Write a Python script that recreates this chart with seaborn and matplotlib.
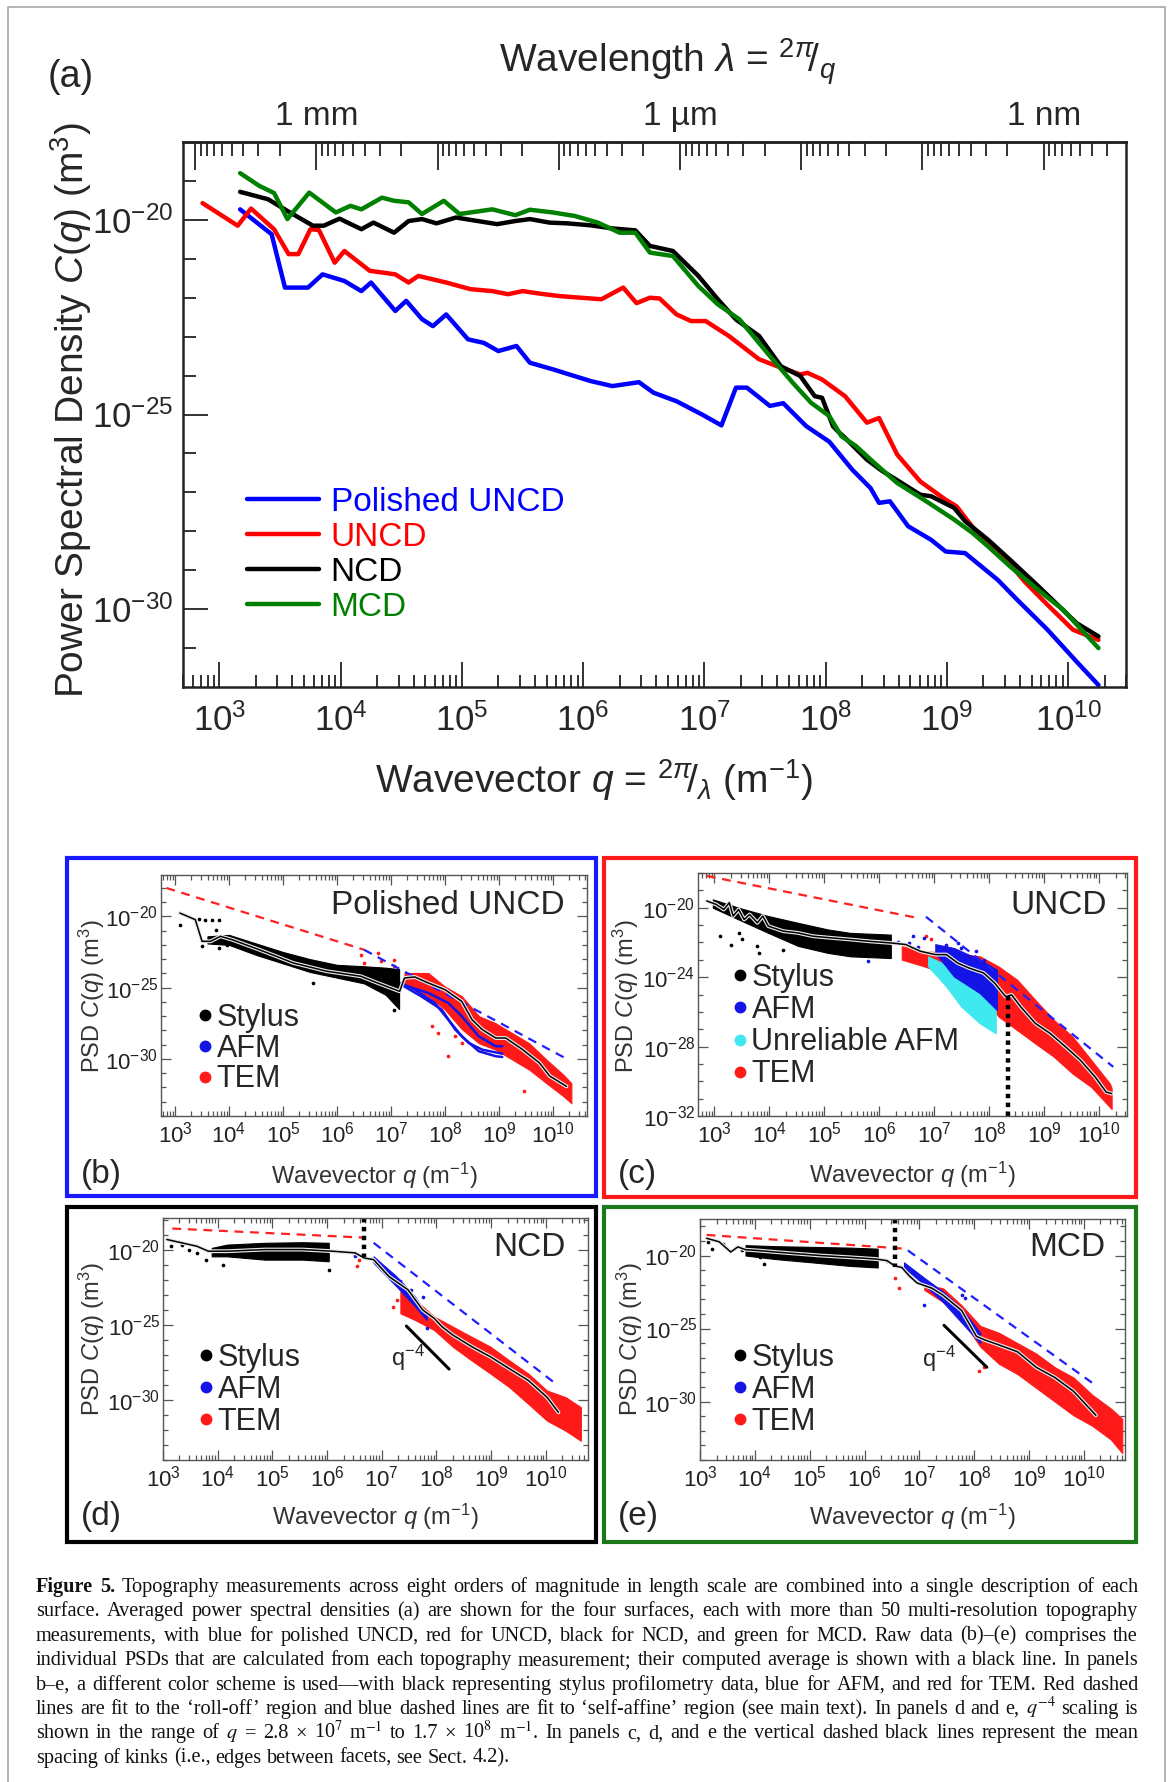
import numpy as np
import pandas as pd
import matplotlib
matplotlib.use("Agg")
import matplotlib.pyplot as plt
import seaborn as sns
from matplotlib.lines import Line2D
from matplotlib.patches import Rectangle
from matplotlib.ticker import NullFormatter
import matplotlib.patheffects as pe

# ======================= DATA (log10 values) =======================
# ---- panel (a): averaged PSDs ----
pol_lq = [3.17,3.43,3.54,3.73,3.85,4.03,4.17,4.25,4.45,4.54,4.67,4.76,4.87,5.05,5.18,5.30,5.45,5.56,5.75,6.06,
          6.24,6.46,6.58,6.77,6.98,7.14,7.26,7.35,7.54,7.65,7.84,8.03,8.22,8.37,8.44,8.53,8.68,8.87,8.99,9.15,
          9.42,9.58,9.83,10.07,10.25]
pol_lc = [-19.73,-20.37,-21.74,-21.74,-21.40,-21.57,-21.83,-21.61,-22.34,-22.08,-22.55,-22.73,-22.43,-23.07,-23.16,
          -23.37,-23.24,-23.67,-23.84,-24.14,-24.27,-24.17,-24.44,-24.66,-25.00,-25.28,-24.31,-24.31,-24.78,-24.71,
          -25.30,-25.70,-26.42,-26.89,-27.27,-27.23,-27.87,-28.22,-28.52,-28.56,-29.25,-29.76,-30.53,-31.35,-31.95]
uncd_lq = [2.86,3.15,3.26,3.45,3.57,3.65,3.75,3.82,3.95,4.03,4.24,4.36,4.45,4.56,4.64,4.87,5.07,5.25,5.38,5.50,
           5.63,5.81,6.15,6.33,6.44,6.55,6.63,6.77,6.89,7.01,7.20,7.45,7.60,7.79,7.85,7.97,8.16,8.34,8.44,8.59,
           8.78,8.99,9.08,9.27,9.42,9.64,9.83,10.04,10.25]
uncd_lc = [-19.57,-20.15,-19.71,-20.24,-20.88,-20.88,-20.24,-20.26,-21.10,-20.80,-21.31,-21.36,-21.40,-21.61,-21.44,
           -21.61,-21.78,-21.83,-21.91,-21.83,-21.89,-21.96,-22.04,-21.74,-22.14,-22.00,-22.02,-22.43,-22.60,-22.60,
           -22.98,-23.58,-23.76,-23.97,-23.93,-24.10,-24.53,-25.21,-25.09,-26.03,-26.72,-27.19,-27.36,-28.13,-28.47,
           -29.29,-29.89,-30.53,-30.79]
ncd_lq = [3.17,3.40,3.56,3.77,3.86,3.99,4.17,4.27,4.44,4.56,4.67,4.79,4.95,5.13,5.29,5.44,5.56,5.72,5.87,6.06,
          6.24,6.43,6.55,6.74,6.95,7.11,7.26,7.45,7.63,7.79,7.91,7.97,8.06,8.10,8.16,8.34,8.47,8.56,8.78,8.87,
          9.06,9.15,9.34,9.52,9.74,9.90,10.07,10.25]
ncd_lc = [-19.28,-19.47,-19.77,-20.15,-20.15,-19.97,-20.24,-20.07,-20.33,-20.03,-19.98,-20.09,-19.94,-20.03,-20.11,
          -20.03,-19.98,-20.07,-20.09,-20.14,-20.22,-20.27,-20.67,-20.80,-21.44,-22.04,-22.56,-22.98,-23.76,-24.01,
          -24.53,-24.57,-25.30,-25.43,-25.60,-26.16,-26.46,-26.63,-27.06,-27.10,-27.40,-27.74,-28.22,-28.73,-29.37,
          -29.85,-30.36,-30.70]
mcd_lq = [3.17,3.33,3.45,3.56,3.74,3.96,4.08,4.17,4.34,4.44,4.56,4.67,4.85,4.98,5.25,5.44,5.56,5.75,5.93,6.12,
          6.30,6.43,6.55,6.74,6.95,7.11,7.29,7.54,7.73,7.88,8.03,8.13,8.25,8.40,8.59,8.81,9.06,9.21,9.34,9.52,
          9.77,9.96,10.11,10.25]
mcd_lc = [-18.80,-19.13,-19.31,-19.98,-19.30,-19.81,-19.64,-19.73,-19.43,-19.51,-19.55,-19.85,-19.51,-19.85,-19.73,
          -19.88,-19.74,-19.81,-19.90,-20.07,-20.33,-20.33,-20.84,-20.93,-21.70,-22.17,-22.56,-23.50,-24.19,-24.70,
          -25.04,-25.56,-25.81,-26.24,-26.76,-27.19,-27.70,-28.04,-28.39,-28.90,-29.55,-30.02,-30.53,-31.00]
surfaces = ["Polished UNCD", "UNCD", "NCD", "MCD"]
surface_colors = ["#0000ff", "#ff0000", "#000000", "#008000"]
x_tick_exp = [3, 4, 5, 6, 7, 8, 9, 10]
lam_labels = {-3: "1 mm", -6: "1 µm", -9: "1 nm"}

# ---- panel (b): polished UNCD ----
b_roll_lq, b_roll_lc = [2.84, 6.50], [-18.01, -22.34]
b_sa_lq, b_sa_lc = [6.50, 10.28], [-22.34, -30.05]
b_avg_lq = [3.09,3.375,3.5,3.66,3.84,4.06,4.31,4.56,4.875,5.19,5.44,5.81,6.44,6.75,7.16,7.25,7.44,7.69,8.0,8.31,
            8.5,8.69,8.94,9.125,9.44,9.75,9.94,10.25]
b_avg_lc = [-19.77,-20.23,-21.75,-21.75,-21.4,-21.64,-21.99,-22.34,-22.8,-23.27,-23.5,-23.85,-24.2,-24.67,-25.26,
            -24.32,-24.25,-24.67,-25.14,-25.96,-27.24,-27.94,-28.53,-28.53,-29.35,-30.28,-31.2,-31.92]
b_sty_lq = [3.6, 4.0, 4.5, 5.0, 5.5, 6.0, 6.5, 6.9, 7.15]
b_sty_hi = [-21.4, -21.3, -21.9, -22.5, -23.0, -23.4, -23.5, -23.6, -23.7]
b_sty_lo = [-21.9, -22.0, -22.7, -23.3, -23.9, -24.3, -24.7, -25.5, -26.5]
b_sty_dot_lq = [3.09, 3.44, 3.56, 3.69, 3.81, 3.5, 3.81, 3.97, 4.16, 3.75, 5.56, 7.06]
b_sty_dot_lc = [-20.58, -20.19, -20.23, -20.28, -20.28, -22.1, -22.22, -21.99, -22.1, -20.93, -24.67, -26.54]
b_tem_lq = [7.25, 7.69, 7.99, 8.31, 8.63, 8.94, 9.25, 9.56, 9.88, 10.19, 10.34]
b_tem_hi = [-23.97, -23.97, -24.9, -25.6, -27.0, -27.5, -28.2, -28.9, -30.05, -31.1, -31.7]
b_tem_lo = [-24.67, -25.6, -26.5, -27.9, -28.9, -29.35, -30.05, -30.75, -31.7, -32.6, -33.1]
b_tem_dot_lq = [6.44, 6.5, 6.75, 6.81, 7.06, 7.06, 7.75, 7.875, 8.06, 8.19, 8.31, 9.47]
b_tem_dot_lc = [-22.69, -23.27, -22.57, -23.15, -23.04, -23.5, -27.71, -28.18, -29.81, -28.41, -28.88, -32.27]
b_afm1_lq = [7.19, 7.44, 7.81, 8.06, 8.31, 8.625, 8.94, 9.06]
b_afm1_lc = [-24.67, -25.14, -26.07, -27.24, -28.41, -29.46, -29.81, -29.86]
b_afm2_lq = [7.19, 7.56, 7.94, 8.19, 8.44, 8.69, 9.06]
b_afm2_lc = [-24.79, -25.61, -26.54, -27.94, -28.88, -29.35, -29.63]
b_afm3_lq = [7.31, 7.69, 8.06, 8.31, 8.625, 8.94, 9.06]
b_afm3_lc = [-24.91, -25.37, -26.07, -27.0, -28.41, -29.11, -29.11]

# ---- panel (c): UNCD ----
c_roll_lq, c_roll_lc = [2.86, 6.68], [-18.17, -20.58]
c_sa_lq, c_sa_lc = [6.85, 10.26], [-20.52, -29.17]
c_avg_lq = [2.86,3.03,3.17,3.27,3.34,3.44,3.54,3.64,3.78,3.88,3.98,4.25,4.52,4.79,5.13,5.47,5.80,6.21,6.48,6.75,
            7.02,7.22,7.43,7.63,7.90,8.10,8.30,8.41,8.57,8.84,9.11,9.39,9.66,9.93,10.13,10.23]
c_avg_lc = [-19.61,-19.81,-20.10,-19.71,-20.48,-20.10,-20.68,-20.39,-20.87,-20.48,-21.06,-21.35,-21.45,-21.64,-21.74,
            -21.83,-21.93,-22.03,-22.12,-22.51,-22.70,-22.70,-23.19,-23.47,-23.76,-24.34,-25.12,-25.02,-25.69,-26.66,
            -27.24,-28.01,-28.78,-29.75,-30.62,-30.71]
c_sty_lq = [2.97, 3.44, 3.98, 4.52, 5.06, 5.47, 6.21]
c_sty_hi = [-19.52, -20.0, -20.48, -20.87, -21.25, -21.45, -21.55]
c_sty_lo = [-20.0, -20.68, -21.45, -22.2, -22.6, -22.8, -22.9]
c_sty_dot_lq = [3.1, 3.3, 3.51, 3.78, 3.81, 4.25, 3.44]
c_sty_dot_lc = [-21.64, -22.12, -21.83, -22.22, -22.61, -22.41, -21.45]
c_afm_lq = [7.02, 7.36, 7.83, 8.14]
c_afm_hi = [-22.1, -22.32, -22.99, -23.57]
c_afm_lo = [-22.6, -23.96, -24.92, -25.89]
c_afm_dot_lq = [7.22, 7.43, 7.49, 7.76, 7.90, 6.82, 6.61, 5.80, 6.35, 6.55, 6.70]
c_afm_dot_lc = [-22.12, -22.03, -22.32, -22.51, -22.99, -21.74, -21.64, -23.09, -21.95, -22.05, -22.25]
c_bad_lq = [6.89, 7.22, 7.49, 7.83, 8.12]
c_bad_hi = [-22.8, -23.3, -23.7, -24.15, -25.0]
c_bad_lo = [-23.38, -24.54, -25.69, -26.66, -27.24]
c_tem_lq = [6.41, 6.82, 7.36, 7.83, 8.17, 8.51, 8.84, 9.18, 9.52, 9.86, 10.20, 10.23]
c_tem_hi = [-22.22, -22.51, -22.61, -22.80, -23.38, -24.15, -25.31, -26.47, -27.43, -28.78, -30.14, -30.4]
c_tem_lo = [-22.99, -23.38, -23.96, -24.73, -26.27, -27.05, -27.82, -28.59, -29.56, -30.33, -31.49, -31.6]
c_tem_dot_lq = [6.48, 6.55, 6.85, 6.95]
c_tem_dot_lc = [-22.61, -22.99, -21.64, -21.83]
c_kink_lq, c_kink_lc = [8.34, 8.34], [-25.1, -32.0]

# ---- panel (d): NCD ----
d_roll_lq, d_roll_lc = [3.17, 6.65], [-18.6, -19.2]
d_sa_lq, d_sa_lc = [6.85, 10.22], [-19.55, -29.04]
d_avg_lq = [3.07,3.34,3.62,3.83,4.17,4.86,5.55,6.10,6.51,6.68,6.85,7.13,7.48,7.75,7.96,8.10,8.30,8.65,8.99,9.33,
            9.68,10.02,10.23]
d_avg_lc = [-19.33,-19.55,-19.78,-20.11,-20.11,-20.00,-20.00,-20.11,-20.22,-20.56,-20.67,-21.79,-22.68,-24.02,-24.58,
            -25.13,-25.69,-26.47,-27.14,-27.92,-28.71,-29.82,-30.83]
d_sty_lq = [3.89, 4.17, 4.86, 5.55, 6.03]
d_sty_hi = [-19.89, -19.67, -19.55, -19.51, -19.55]
d_sty_lo = [-20.45, -20.45, -20.67, -20.67, -20.78]
d_sty_dot_lq = [3.14, 3.34, 3.48, 3.79, 4.10, 3.62, 6.03]
d_sty_dot_lc = [-19.78, -19.67, -20.0, -20.67, -21.0, -20.22, -21.34]
d_afm_lq = [6.85, 7.27, 7.61, 7.82]
d_afm_hi = [-20.45, -21.79, -23.13, -24.35]
d_afm_lo = [-20.89, -22.46, -23.79, -24.69]
d_afm_dot_lq = [6.51, 6.65, 7.06, 7.34, 7.54, 7.75, 7.82]
d_afm_dot_lc = [-20.45, -20.33, -21.45, -22.12, -22.68, -23.13, -25.25]
d_tem_lq = [7.34, 7.61, 7.96, 8.30, 8.64, 8.99, 9.33, 9.68, 10.02, 10.36, 10.64]
d_tem_hi = [-22.8, -23.35, -24.46, -25.13, -25.80, -26.47, -27.37, -28.26, -29.38, -29.82, -30.49]
d_tem_lo = [-24.24, -24.69, -25.36, -26.47, -27.37, -28.26, -29.15, -30.27, -31.38, -32.05, -32.72]
d_tem_dot_lq = [6.54, 6.58, 7.27, 7.20]
d_tem_dot_lc = [-21.12, -20.67, -23.35, -23.79]
d_kink_lq, d_kink_lc = [6.68, 6.68], [-17.9, -20.5]
d_q4_lq, d_q4_lc = [7.45, 8.23], [-25.09, -27.95]

# ---- panel (e): MCD ----
e_roll_lq, e_roll_lc = [3.12, 6.72], [-18.59, -19.53]
e_sa_lq, e_sa_lc = [6.79, 10.19], [-19.65, -28.82]
e_avg_lq = [3.12,3.35,3.56,3.69,3.83,4.03,4.37,4.78,5.19,5.73,6.21,6.41,6.55,6.68,6.82,6.96,7.23,7.43,7.77,8.04,
            8.18,8.45,8.79,9.13,9.47,9.81,10.22]
e_avg_lc = [-18.82,-19.06,-19.76,-19.41,-19.60,-19.65,-19.76,-19.88,-20.00,-20.12,-20.24,-20.35,-20.71,-20.82,-21.41,
            -21.88,-22.24,-22.71,-23.76,-25.53,-25.76,-26.12,-26.59,-27.65,-28.35,-29.29,-30.94]
e_sty_lq = [3.83, 4.37, 5.05, 5.73, 6.24]
e_sty_hi = [-19.29, -19.36, -19.41, -19.46, -19.53]
e_sty_lo = [-20.0, -20.24, -20.47, -20.71, -20.82]
e_sty_dot_lq = [3.15, 3.22, 3.42, 3.76, 4.10, 4.17]
e_sty_dot_lc = [-19.06, -19.53, -19.18, -19.65, -20.12, -20.59]
e_afm_lq = [6.72, 7.09, 7.43, 7.77, 8.11]
e_afm_hi = [-20.47, -21.53, -22.47, -23.65, -25.29]
e_afm_lo = [-20.82, -22.0, -23.18, -24.59, -26.0]
e_afm_dot_lq = [6.41, 7.09, 7.77, 7.84]
e_afm_dot_lc = [-20.35, -23.41, -22.71, -22.94]
e_tem_lq = [7.09, 7.43, 7.77, 8.11, 8.45, 8.79, 9.13, 9.47, 9.81, 10.15, 10.49, 10.70]
e_tem_hi = [-22.0, -22.24, -23.41, -24.82, -25.29, -26.0, -26.71, -27.65, -28.35, -29.53, -30.47, -31.18]
e_tem_lo = [-22.35, -23.18, -24.35, -26.24, -27.41, -28.12, -29.06, -30.0, -30.94, -31.65, -32.59, -33.53]
e_tem_dot_lq = [6.55, 6.62, 8.08, 8.18]
e_tem_dot_lc = [-21.53, -22.24, -27.88, -27.65]
e_kink_lq, e_kink_lc = [6.56, 6.56], [-17.5, -20.8]
e_q4_lq, e_q4_lc = [7.45, 8.23], [-24.78, -27.65]

caption_lines = [
    "Figure 5. Topography measurements across eight orders of magnitude in length scale are combined into a single description of each",
    "surface. Averaged power spectral densities (a) are shown for the four surfaces, each with more than 50 multi-resolution topography",
    "measurements, with blue for polished UNCD, red for UNCD, black for NCD, and green for MCD. Raw data (b)–(e) comprises the",
    "individual PSDs that are calculated from each topography measurement; their computed average is shown with a black line. In panels",
    "b–e, a different color scheme is used—with black representing stylus profilometry data, blue for AFM, and red for TEM. Red dashed",
    "lines are fit to the ‘roll-off’ region and blue dashed lines are fit to ‘self-affine’ region (see main text). In panels d and e, $q^{-4}$ scaling is",
    "shown in the range of $q$ = 2.8 × 10$^{7}$ m$^{-1}$ to 1.7 × 10$^{8}$ m$^{-1}$. In panels c, d, and e the vertical dashed black lines represent the mean",
    "spacing of kinks (i.e., edges between facets, see Sect. 4.2).",
]

# ======================= STYLE / HELPERS =======================
W, H = 1171, 1782
sns.set_style("ticks")
plt.rcParams["font.family"] = ["Liberation Sans", "DejaVu Sans"]
plt.rcParams["mathtext.fontset"] = "custom"
plt.rcParams["mathtext.rm"] = "Liberation Sans"
plt.rcParams["mathtext.it"] = "Liberation Sans:italic"
plt.rcParams["mathtext.bf"] = "Liberation Sans:bold"
plt.rcParams["mathtext.sf"] = "Liberation Sans"

fig = plt.figure(figsize=(W / 100, H / 100), dpi=100)
fig.patch.set_facecolor("white")


def P(a):
    return 10.0 ** np.asarray(a, dtype=float)


def fx(x):
    return x / W


def fy(y):
    return 1 - y / H


def add_ax(x0, y0, x1, y1):
    return fig.add_axes([x0 / W, 1 - y1 / H, (x1 - x0) / W, (y1 - y0) / H])


# page frame
fig.patches.append(Rectangle((fx(8), fy(1795)), fx(1165) - fx(8), fy(7) - fy(1795),
                             transform=fig.transFigure, fill=False, ec="#a8a8a8", lw=1.2))

# ======================= PANEL (a) =======================
ax = add_ax(183, 142, 1126, 687)
ax.set_xscale("log")
ax.set_yscale("log")
df_a = pd.concat([
    pd.DataFrame({"q": P(lq), "C": P(lc), "surface": s})
    for s, lq, lc in zip(surfaces, [pol_lq, uncd_lq, ncd_lq, mcd_lq], [pol_lc, uncd_lc, ncd_lc, mcd_lc])
])
sns.lineplot(data=df_a, x="q", y="C", hue="surface", hue_order=surfaces,
             palette=dict(zip(surfaces, surface_colors)), estimator=None, sort=False,
             lw=3.2, legend=False, ax=ax)
ax.set_xlim(5e2, 3e10)
ax.set_ylim(1e-32, 1e-18)
ax.set_xlabel("")
ax.set_ylabel("")
ax.set_xticks(P(x_tick_exp), labels=[f"$10^{{{k}}}$" for k in x_tick_exp])
ax.set_xticks([m * 10.0 ** k for k in range(2, 11) for m in range(2, 10) if 5e2 <= m * 10.0 ** k <= 3e10], minor=True)
ax.set_yticks(P([-20, -25, -30]), labels=["$10^{-20}$", "$10^{-25}$", "$10^{-30}$"])
ax.set_yticks(P([k for k in range(-31, -18) if k % 5 != 0]), minor=True)
ax.xaxis.set_minor_formatter(NullFormatter())
ax.yaxis.set_minor_formatter(NullFormatter())
ax.tick_params(which="both", direction="in", top=False, right=False, color="#222222", width=1.3)
ax.tick_params(which="major", length=18, labelsize=25)
ax.tick_params(which="minor", length=9)
ax.tick_params(axis="x", pad=12)
ax.tick_params(axis="y", pad=7)
for sp in ax.spines.values():
    sp.set_linewidth(1.8)
    sp.set_color("#222222")


def q2lam(v):
    v = np.asarray(v, dtype=float)
    with np.errstate(divide="ignore", invalid="ignore"):
        return 2 * np.pi / v


sec = ax.secondary_xaxis("top", functions=(q2lam, q2lam))
lam_exps = list(range(-9, -1))
sec.set_ticks(P(lam_exps), labels=[lam_labels.get(k, "") for k in lam_exps])
lam_minor = [m * 10.0 ** k for k in range(-10, -1) for m in range(2, 10)
             if 2 * np.pi / 3e10 <= m * 10.0 ** k <= 2 * np.pi / 5e2]
sec.set_ticks(lam_minor, minor=True)
sec.xaxis.set_minor_formatter(NullFormatter())
sec.tick_params(which="both", direction="in", color="#222222", width=1.3)
sec.tick_params(which="major", length=20, labelsize=24, pad=7)
sec.tick_params(which="minor", length=10)
sec.spines["top"].set_linewidth(1.8)

handles = [Line2D([], [], color=c, lw=3.2) for c in surface_colors]
ax.legend(handles, surfaces, loc="upper left", bbox_to_anchor=(fx(247), fy(487)),
          bbox_transform=fig.transFigure, frameon=False, fontsize=24, handlelength=2.15,
          handletextpad=0.36, labelspacing=0.12, borderpad=0, borderaxespad=0, labelcolor=surface_colors)

fig.text(fx(71), fy(77), "(a)", fontsize=27, ha="center", va="center")
fig.text(fx(668), fy(62), r"Wavelength $\lambda$ = ${}^{2\pi}\!/_{q}$", fontsize=28, ha="center", va="center")
fig.text(fx(594), fy(780), r"Wavevector $q$ = ${}^{2\pi}\!/_{\lambda}$ (m$^{-1}$)", fontsize=28, ha="center", va="center")
fig.text(fx(71), fy(410), r"Power Spectral Density $C(q)$ (m$^{3}$)", fontsize=28, rotation=90,
         ha="center", va="center")

# ======================= PANELS (b)-(e) =======================
BLACK, AFM_BLUE, TEM_RED, CYAN = "#000000", "#1414e6", "#ff1a1a", "#40e8f0"


def setup_sub(rect, xlim, ylim, ymajor):
    a = add_ax(*rect)
    a.set_xscale("log")
    a.set_yscale("log")
    a.set_xlim(*xlim)
    a.set_ylim(*ylim)
    lo_e, hi_e = int(np.floor(np.log10(xlim[0]))), int(np.ceil(np.log10(xlim[1])))
    majors = [k for k in range(3, 11)]
    a.set_xticks(P(majors), labels=[f"$10^{{{k}}}$" for k in majors])
    a.set_xticks([m * 10.0 ** k for k in range(lo_e, hi_e + 1) for m in range(2, 10)
                  if xlim[0] <= m * 10.0 ** k <= xlim[1]], minor=True)
    a.set_yticks(P(ymajor), labels=[f"$10^{{{k}}}$" for k in ymajor])
    ylo, yhi = int(np.ceil(np.log10(ylim[0]))), int(np.floor(np.log10(ylim[1])))
    a.set_yticks(P([k for k in range(ylo, yhi + 1) if k not in ymajor]), minor=True)
    a.xaxis.set_minor_formatter(NullFormatter())
    a.yaxis.set_minor_formatter(NullFormatter())
    a.tick_params(which="both", direction="in", top=True, right=True, color="#555555", width=0.9,
                  labelcolor="#222222")
    a.tick_params(which="major", labelsize=16)
    a.tick_params(axis="x", which="major", length=7, pad=4)
    a.tick_params(axis="x", which="minor", length=3.5)
    a.tick_params(axis="y", which="major", length=7, pad=2)
    a.tick_params(axis="y", which="minor", length=3.5)
    for sp in a.spines.values():
        sp.set_linewidth(1.0)
        sp.set_color("#555555")
    return a


def band(a, lq, hi, lo, color):
    a.fill_between(P(lq), P(lo), P(hi), color=color, lw=0.8, ec=color)


def dots(a, lq, lc, color):
    sns.scatterplot(x=P(lq), y=P(lc), color=color, s=7, linewidth=0, ax=a)


def fits(a, rlq, rlc, slq, slc):
    a.plot(P(rlq), P(rlc), color="#ff2020", lw=1.6, ls=(0, (4, 3)))
    a.plot(P(slq), P(slc), color="#2020ff", lw=1.6, ls=(0, (4, 3)))


def avg(a, lq, lc):
    sns.lineplot(x=P(lq), y=P(lc), color="black", lw=1.1, estimator=None, sort=False, ax=a,
                 path_effects=[pe.Stroke(linewidth=2.8, foreground="#e8e8e8"), pe.Normal()])


def legend_sub(a, labels, colors, x_bullet, y_first, spacing):
    hs = [Line2D([], [], marker="o", ls="", color=c, markersize=7.5) for c in colors]
    a.legend(hs, labels, loc="upper left", bbox_to_anchor=(fx(x_bullet - 7.5), fy(y_first - 17)),
             bbox_transform=fig.transFigure, frameon=False, fontsize=22, handlelength=0.5,
             handletextpad=0.12, labelspacing=spacing, borderpad=0, borderaxespad=0)


def kink(a, lq, lc):
    a.plot(P(lq), P(lc), color="black", lw=3.2, ls=(0, (1, 1)))


def box(x0, y0, x1, y1, color):
    fig.patches.append(Rectangle((fx(x0), fy(y1)), fx(x1) - fx(x0), fy(y0) - fy(y1),
                                 transform=fig.transFigure, fill=False, ec=color, lw=3.0))


ylab = r"PSD $C(q)$ (m$^{3}$)"
xlab = r"Wavevector $q$ (m$^{-1}$)"

# ---- (b) ----
box(67, 858, 596, 1196, "#1a1aff")
ab = setup_sub((161, 875, 587, 1116), (10 ** 2.74, 10 ** 10.63), (1e-34, 10 ** -17.1), [-20, -25, -30])
band(ab, b_sty_lq, b_sty_hi, b_sty_lo, BLACK)
dots(ab, b_sty_dot_lq, b_sty_dot_lc, BLACK)
band(ab, b_tem_lq, b_tem_hi, b_tem_lo, TEM_RED)
dots(ab, b_tem_dot_lq, b_tem_dot_lc, TEM_RED)
df_afm = pd.concat([pd.DataFrame({"q": P(lq), "C": P(lc), "m": i}) for i, (lq, lc) in
                    enumerate([(b_afm1_lq, b_afm1_lc), (b_afm2_lq, b_afm2_lc), (b_afm3_lq, b_afm3_lc)])])
sns.lineplot(data=df_afm, x="q", y="C", units="m", estimator=None, sort=False, color=AFM_BLUE, lw=1.8, ax=ab)
fits(ab, b_roll_lq, b_roll_lc, b_sa_lq, b_sa_lc)
avg(ab, b_avg_lq, b_avg_lc)
ab.set_xlabel("")
ab.set_ylabel("")
legend_sub(ab, ["Stylus", "AFM", "TEM"], [BLACK, AFM_BLUE, TEM_RED], 205, 1020, 0.02)
fig.text(fx(565), fy(906), "Polished UNCD", fontsize=24, ha="right", va="center")
fig.text(fx(101), fy(1175), "(b)", fontsize=24, ha="center", va="center")
fig.text(fx(374), fy(1176), xlab, fontsize=17, ha="center", va="center", color="#333333")
fig.text(fx(92), fy(996), ylab, fontsize=17, rotation=90, ha="center", va="center", color="#333333")

# ---- (c) ----
box(604, 858, 1136, 1197, "#ff1a1a")
ac = setup_sub((698, 873, 1127, 1116), (10 ** 2.70, 10 ** 10.51), (1e-32, 1e-18), [-20, -24, -28, -32])
band(ac, c_sty_lq, c_sty_hi, c_sty_lo, BLACK)
dots(ac, c_sty_dot_lq, c_sty_dot_lc, BLACK)
band(ac, c_tem_lq, c_tem_hi, c_tem_lo, TEM_RED)
dots(ac, c_tem_dot_lq, c_tem_dot_lc, TEM_RED)
band(ac, c_bad_lq, c_bad_hi, c_bad_lo, CYAN)
band(ac, c_afm_lq, c_afm_hi, c_afm_lo, AFM_BLUE)
dots(ac, c_afm_dot_lq, c_afm_dot_lc, AFM_BLUE)
fits(ac, c_roll_lq, c_roll_lc, c_sa_lq, c_sa_lc)
avg(ac, c_avg_lq, c_avg_lc)
kink(ac, c_kink_lq, c_kink_lc)
ac.set_xlabel("")
ac.set_ylabel("")
legend_sub(ac, ["Stylus", "AFM", "Unreliable AFM", "TEM"], [BLACK, AFM_BLUE, CYAN, TEM_RED], 740, 980, 0.07)
fig.text(fx(1107), fy(906), "UNCD", fontsize=24, ha="right", va="center")
fig.text(fx(637), fy(1175), "(c)", fontsize=24, ha="center", va="center")
fig.text(fx(912), fy(1175), xlab, fontsize=17, ha="center", va="center", color="#333333")
fig.text(fx(626), fy(996), ylab, fontsize=17, rotation=90, ha="center", va="center", color="#333333")

# ---- (d) ----
box(67, 1207, 596, 1542, "#000000")
ad = setup_sub((163, 1218, 588, 1460), (10 ** 3.0, 10 ** 10.77), (1e-34, 10 ** -17.9), [-20, -25, -30])
band(ad, d_sty_lq, d_sty_hi, d_sty_lo, BLACK)
dots(ad, d_sty_dot_lq, d_sty_dot_lc, BLACK)
band(ad, d_tem_lq, d_tem_hi, d_tem_lo, TEM_RED)
dots(ad, d_tem_dot_lq, d_tem_dot_lc, TEM_RED)
band(ad, d_afm_lq, d_afm_hi, d_afm_lo, AFM_BLUE)
dots(ad, d_afm_dot_lq, d_afm_dot_lc, AFM_BLUE)
fits(ad, d_roll_lq, d_roll_lc, d_sa_lq, d_sa_lc)
avg(ad, d_avg_lq, d_avg_lc)
kink(ad, d_kink_lq, d_kink_lc)
ad.plot(P(d_q4_lq), P(d_q4_lc), color="black", lw=2.2)
ad.text(10 ** 7.78, 10 ** -27.2, "q$^{-4}$", fontsize=17, ha="right", va="center")
ad.set_xlabel("")
ad.set_ylabel("")
legend_sub(ad, ["Stylus", "AFM", "TEM"], [BLACK, AFM_BLUE, TEM_RED], 206, 1360, 0.06)
fig.text(fx(566), fy(1247), "NCD", fontsize=24, ha="right", va="center")
fig.text(fx(101), fy(1516), "(d)", fontsize=24, ha="center", va="center")
fig.text(fx(375), fy(1517), xlab, fontsize=17, ha="center", va="center", color="#333333")
fig.text(fx(92), fy(1339), ylab, fontsize=17, rotation=90, ha="center", va="center", color="#333333")

# ---- (e) ----
box(604, 1207, 1136, 1542, "#1a7a1a")
ae = setup_sub((700, 1219, 1125, 1460), (10 ** 3.0, 10 ** 10.75), (1e-34, 10 ** -17.5), [-20, -25, -30])
band(ae, e_sty_lq, e_sty_hi, e_sty_lo, BLACK)
dots(ae, e_sty_dot_lq, e_sty_dot_lc, BLACK)
band(ae, e_tem_lq, e_tem_hi, e_tem_lo, TEM_RED)
dots(ae, e_tem_dot_lq, e_tem_dot_lc, TEM_RED)
band(ae, e_afm_lq, e_afm_hi, e_afm_lo, AFM_BLUE)
dots(ae, e_afm_dot_lq, e_afm_dot_lc, AFM_BLUE)
fits(ae, e_roll_lq, e_roll_lc, e_sa_lq, e_sa_lc)
avg(ae, e_avg_lq, e_avg_lc)
kink(ae, e_kink_lq, e_kink_lc)
ae.plot(P(e_q4_lq), P(e_q4_lc), color="black", lw=2.2)
ae.text(10 ** 7.67, 10 ** -27.06, "q$^{-4}$", fontsize=17, ha="right", va="center")
ae.set_xlabel("")
ae.set_ylabel("")
legend_sub(ae, ["Stylus", "AFM", "TEM"], [BLACK, AFM_BLUE, TEM_RED], 740, 1360, 0.06)
fig.text(fx(1105), fy(1247), "MCD", fontsize=24, ha="right", va="center")
fig.text(fx(638), fy(1516), "(e)", fontsize=24, ha="center", va="center")
fig.text(fx(912), fy(1517), xlab, fontsize=17, ha="center", va="center", color="#333333")
fig.text(fx(630), fy(1339), ylab, fontsize=17, rotation=90, ha="center", va="center", color="#333333")

# ======================= CAPTION (justified) =======================
renderer = fig.canvas.get_renderer()
CAP_SIZE = 14.6
CAP_X0, CAP_X1 = 36, 1138


def cap_line(text, ybase, justify=True, nbold=0):
    words = text.split(" ")
    size = CAP_SIZE
    for _ in range(4):
        arts = [fig.text(0, fy(ybase), w, fontsize=size, family=["Liberation Serif", "DejaVu Serif"],
                         math_fontfamily="stix", va="baseline", ha="left", color="#111111",
                         fontweight=("bold" if i < nbold else "normal"))
                for i, w in enumerate(words)]
        widths = [t.get_window_extent(renderer).width for t in arts]
        space_px = 0.25 * size * 100 / 72
        need = sum(widths) + (len(words) - 1) * 0.75 * space_px
        if not justify or need <= CAP_X1 - CAP_X0:
            break
        for t in arts:
            t.remove()
        size *= (CAP_X1 - CAP_X0) / need
    gap = space_px
    if justify and len(words) > 1:
        gap = (CAP_X1 - CAP_X0 - sum(widths)) / (len(words) - 1)
    x = CAP_X0
    for t, w in zip(arts, widths):
        t.set_x(fx(x))
        x += w + gap


for i, line in enumerate(caption_lines):
    cap_line(line, 1592 + i * 24.4, justify=(i < len(caption_lines) - 1), nbold=(2 if i == 0 else 0))

fig.savefig("out.png", dpi=100, facecolor="white")
